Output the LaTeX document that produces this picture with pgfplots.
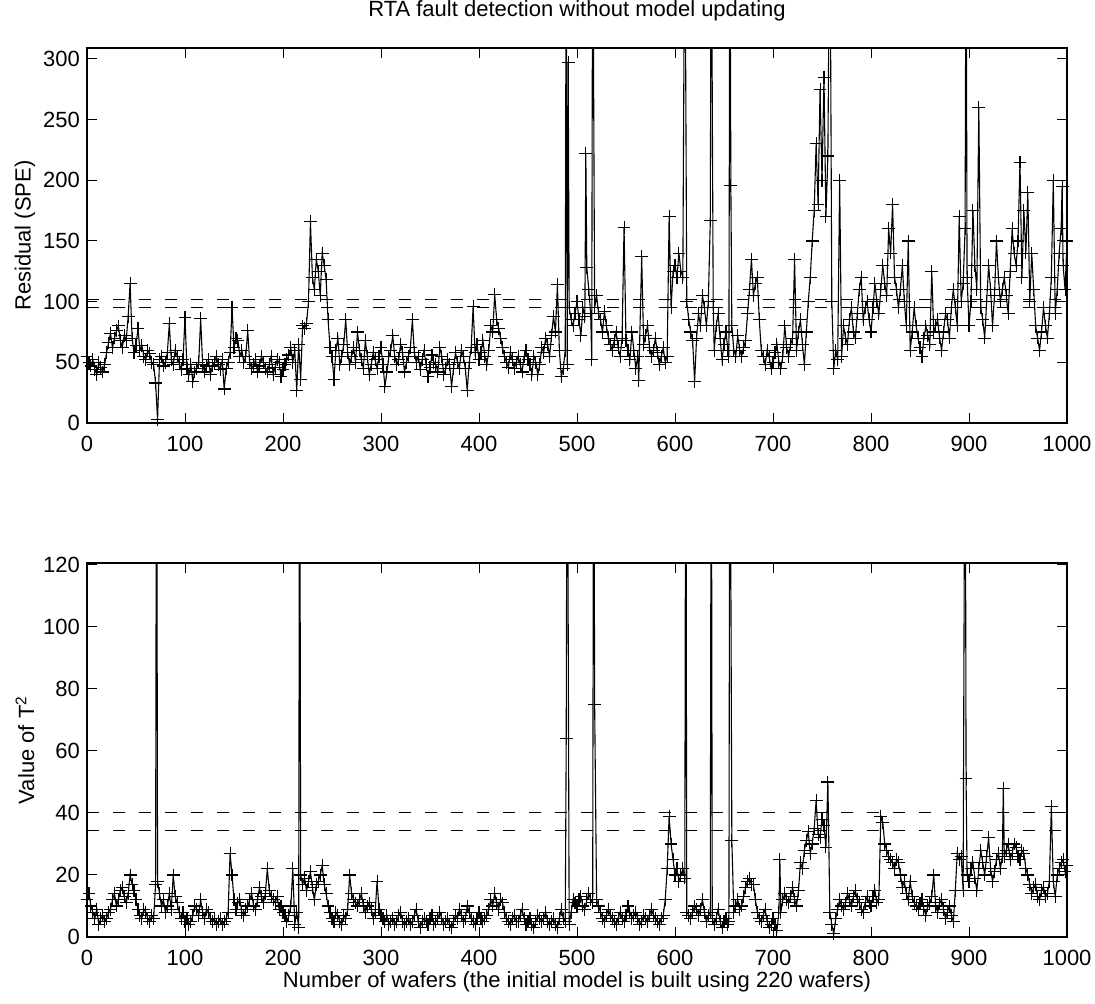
\documentclass[border=0pt]{standalone}
\usepackage{fontspec}
\setmainfont{Liberation Sans}
\usepackage{pgfplots}
\pgfplotsset{compat=1.18}

\pgfplotsset{
  rtabox/.style={
    scale only axis, width=490pt,
    xmin=0, xmax=1000, xtick={0,100,...,1000},
    font=\fontsize{11}{13}\selectfont,
    /pgf/number format/assume math mode=true,
    /pgf/number format/1000 sep={},
    tick align=inside, major tick length=5pt,
    xtick pos=both, ytick pos=both,
    xticklabel pos=lower, yticklabel pos=left,
    xticklabel style={yshift=-3pt},
    axis line style={line width=0.6pt},
    every tick/.style={black, line width=0.5pt},
    ylabel style={at={(axis description cs:-0.0633,0.5)}, anchor=center, rotate=0},
    clip=true,
  },
  wafer/.style={black, line width=0.55pt, mark=+, mark size=3.2pt,
    mark options={line width=0.55pt}},
  limit/.style={black, line width=0.5pt, dash pattern=on 6pt off 7pt, forget plot},
}

\begin{document}
\begin{tikzpicture}
\path[use as bounding box] (0,0) rectangle (547.5pt,501.5pt);

% top: squared prediction error
\begin{axis}[rtabox, at={(43.5pt,290pt)}, anchor=south west,
  height=187.5pt, ymin=0, ymax=309, ytick={0,50,...,300},
  ylabel={Residual (SPE)},
  title={RTA fault detection without model updating},
  title style={at={(axis description cs:0.5,1)}, anchor=base, yshift=9.5pt, inner sep=0pt},
]
\addplot[limit] coordinates {(0,102) (1000,102)};
\addplot[limit] coordinates {(0,95) (1000,95)};
\addplot[wafer] coordinates {
(0,55)(2,50)(4,47)(6,52)(8,44)(10,40)(12,50)(14,46)(16,42)(18,48)(20,58)(22,66)(24,74)
(26,62)(28,70)(30,76)(32,80)(34,68)(36,62)(38,72)(40,68)(42,88)(44,115)(46,70)(48,58)
(50,64)(52,78)(54,60)(56,64)(58,55)(60,52)(62,60)(64,57)(66,50)(68,48)(70,33)(72,3)
(74,52)(76,55)(78,47)(80,50)(82,58)(84,82)(86,52)(88,48)(90,60)(92,55)(94,50)(96,44)
(98,52)(100,87)(102,45)(104,40)(106,48)(108,34)(110,42)(112,45)(114,50)(116,86)(118,48)
(120,42)(122,47)(124,52)(126,40)(128,47)(130,50)(132,55)(134,48)(136,44)(138,52)
(140,28)(142,45)(144,50)(146,58)(148,95)(150,62)(152,70)(154,68)(156,55)(158,60)
(160,50)(162,55)(164,76)(166,50)(168,45)(170,48)(172,52)(174,42)(176,47)(178,55)
(180,50)(182,45)(184,42)(186,48)(188,55)(190,40)(192,46)(194,52)(196,50)(198,38)
(200,44)(202,48)(204,52)(206,56)(208,62)(210,50)(212,60)(214,27)(216,65)(218,36)
(220,80)(222,78)(224,82)(226,100)(228,166)(230,120)(232,110)(234,135)(236,125)(238,105)
(240,140)(242,130)(244,118)(246,85)(248,62)(250,55)(252,36)(254,60)(256,70)(258,48)
(260,55)(262,65)(264,85)(266,58)(268,48)(270,55)(272,62)(274,50)(276,75)(278,60)
(280,52)(282,45)(284,68)(286,55)(288,40)(290,48)(292,58)(294,52)(296,45)(298,55)
(300,62)(302,48)(304,30)(306,42)(308,55)(310,60)(312,72)(314,55)(316,48)(318,52)
(320,65)(322,58)(324,42)(326,50)(328,55)(330,62)(332,85)(334,58)(336,50)(338,55)
(340,44)(342,52)(344,60)(346,48)(348,38)(350,46)(352,56)(354,50)(356,48)(358,42)
(360,62)(362,55)(364,40)(366,45)(368,52)(370,48)(372,30)(374,45)(376,58)(378,50)
(380,45)(382,60)(384,55)(386,45)(388,27)(390,50)(392,62)(394,96)(396,58)(398,65)
(400,52)(402,58)(404,68)(406,55)(408,48)(410,60)(412,80)(414,75)(416,106)(418,85)
(420,78)(422,70)(424,62)(426,55)(428,50)(430,46)(432,58)(434,52)(436,45)(438,50)
(440,55)(442,48)(444,42)(446,55)(448,60)(450,52)(452,48)(454,40)(456,55)(458,50)
(460,40)(462,48)(464,62)(466,58)(468,70)(470,65)(472,55)(474,72)(476,88)(478,75)
(480,114)(482,60)(484,38)(486,45)(488,60)(489,450)(490,48)(491,297)(492,95)(494,85)
(496,80)(498,90)(500,100)(502,85)(504,72)(506,95)(508,88)(509,222)(510,128)(512,110)
(514,90)(515,52)(516,450)(518,95)(520,105)(522,90)(524,85)(526,75)(528,92)(530,80)
(532,70)(534,65)(536,60)(538,68)(540,75)(542,62)(544,55)(546,70)(548,161)(550,68)
(552,60)(554,52)(556,75)(558,60)(560,45)(562,55)(563,35)(566,137)(568,65)(570,72)
(572,80)(574,62)(576,55)(578,60)(580,70)(582,58)(584,48)(586,55)(588,62)(590,50)
(592,55)(594,170)(596,95)(598,125)(600,130)(602,120)(604,140)(606,125)(608,120)
(610,450)(612,100)(614,85)(616,75)(618,68)(620,34)(622,70)(624,90)(626,80)(628,105)
(630,95)(632,80)(634,100)(636,167)(637,450)(639,95)(640,60)(642,80)(644,90)(646,70)
(648,52)(650,65)(652,75)(654,60)(655,55)(656,450)(657,196)(658,80)(660,60)(662,55)
(664,72)(666,60)(668,55)(670,62)(672,68)(674,90)(676,110)(678,135)(680,105)(682,115)
(684,120)(686,85)(688,60)(690,55)(692,48)(694,60)(696,55)(698,45)(700,50)(702,58)
(704,65)(706,50)(708,45)(710,55)(712,80)(714,62)(716,55)(718,65)(720,70)(722,135)
(724,60)(726,75)(728,85)(730,65)(732,48)(734,75)(736,100)(738,120)(740,150)(742,175)
(744,230)(746,180)(748,275)(750,200)(752,285)(754,170)(756,220)(758,450)(760,100)
(762,45)(764,60)(766,52)(768,200)(770,55)(772,80)(774,70)(776,65)(778,85)(780,95)
(782,75)(784,70)(786,90)(788,110)(790,120)(792,85)(794,95)(796,100)(798,85)(800,75)
(802,95)(804,115)(806,100)(808,90)(810,110)(812,130)(814,115)(816,105)(818,160)
(820,140)(822,180)(824,120)(826,110)(828,95)(830,110)(832,130)(834,100)(836,80)
(838,150)(840,60)(842,75)(844,95)(846,80)(848,70)(850,62)(852,55)(854,70)(856,80)
(858,72)(860,65)(862,125)(864,75)(866,80)(868,85)(870,70)(872,60)(874,75)(876,90)
(878,85)(880,70)(882,95)(884,110)(886,95)(888,80)(890,170)(892,100)(894,115)(896,160)
(897,450)(898,120)(900,80)(902,100)(904,175)(906,130)(908,110)(910,260)(912,95)
(914,85)(916,70)(918,100)(920,130)(922,110)(924,80)(926,105)(928,150)(930,120)
(932,100)(934,110)(936,120)(938,105)(940,90)(942,125)(944,160)(946,140)(948,130)
(950,150)(952,215)(954,120)(956,175)(958,140)(960,190)(962,100)(964,140)(966,110)
(968,80)(970,70)(972,60)(974,75)(976,95)(978,80)(980,70)(982,90)(984,120)(986,200)
(988,90)(990,110)(992,140)(994,160)(995,195)(996,130)(998,110)(1000,150)
};
\end{axis}

% bottom: Hotelling T^2
\begin{axis}[rtabox, at={(43.5pt,33pt)}, anchor=south west,
  height=187pt, ymin=0, ymax=120.6, ytick={0,20,...,120},
  ylabel={Value of T\textsuperscript{2}},
  xlabel={Number of wafers (the initial model is built using 220 wafers)},
  xlabel style={at={(axis description cs:0.5,0)}, anchor=base, yshift=-25pt, inner sep=0pt},
]
\addplot[limit] coordinates {(0,40) (1000,40)};
\addplot[limit] coordinates {(0,34.3) (1000,34.3)};
\addplot[wafer] coordinates {
(0,12)(2,14)(4,10)(6,8)(8,6)(10,9)(12,4)(14,6)(16,7)(18,5)(20,6)(22,8)(24,9)(26,12)
(28,14)(30,10)(32,12)(34,15)(36,16)(38,13)(40,11)(42,14)(44,20)(46,17)(48,15)(50,12)
(52,9)(54,7)(56,6)(58,9)(60,8)(62,6)(64,5)(66,7)(68,6)(70,17)(71,200)(72,18)(74,14)
(76,10)(78,12)(80,8)(82,10)(84,14)(86,9)(88,20)(90,13)(92,11)(94,8)(96,6)(98,8)(100,5)
(102,6)(104,4)(106,5)(108,7)(110,10)(112,9)(114,7)(116,12)(118,8)(120,6)(122,9)(124,8)
(126,6)(128,5)(130,6)(132,4)(134,5)(136,6)(138,4)(140,5)(142,6)(144,8)(146,27)(148,20)
(150,12)(152,9)(154,11)(156,12)(158,8)(160,7)(162,9)(164,10)(166,12)(168,14)(170,10)
(172,9)(174,12)(176,16)(178,13)(180,11)(182,14)(184,22)(186,15)(188,13)(190,12)(192,11)
(194,13)(196,9)(198,10)(200,8)(202,7)(204,5)(206,7)(208,10)(210,22)(212,4)(214,8)
(216,3)(217,200)(218,20)(220,17)(222,19)(224,15)(226,18)(228,21)(230,16)(232,12)
(234,17)(236,18)(238,20)(240,23)(242,17)(244,14)(246,10)(248,8)(250,6)(252,5)(254,8)
(256,7)(258,5)(260,4)(262,7)(264,6)(266,9)(268,20)(270,14)(272,12)(274,11)(276,10)
(278,12)(280,14)(282,10)(284,8)(286,10)(288,11)(290,9)(292,6)(294,8)(296,18)(298,9)
(300,7)(302,6)(304,5)(306,7)(308,4)(310,5)(312,6)(314,4)(316,5)(318,7)(320,8)(322,5)
(324,4)(326,5)(328,6)(330,4)(332,5)(334,7)(336,9)(338,5)(340,3)(342,5)(344,6)(346,5)
(348,4)(350,6)(352,7)(354,4)(356,5)(358,6)(360,8)(362,6)(364,4)(366,5)(368,6)(370,4)
(372,3)(374,5)(376,7)(378,6)(380,9)(382,7)(384,5)(386,6)(388,10)(390,8)(392,6)(394,5)
(396,4)(398,6)(400,8)(402,6)(404,5)(406,6)(408,7)(410,9)(412,12)(414,10)(416,14)
(418,11)(420,9)(422,12)(424,11)(426,8)(428,6)(430,5)(432,4)(434,6)(436,7)(438,5)
(440,5)(442,7)(444,9)(446,6)(448,4)(450,5)(452,6)(454,4)(456,3)(458,5)(460,7)(462,6)
(464,5)(466,6)(468,8)(470,5)(472,4)(474,5)(476,6)(478,4)(480,3)(482,6)(484,9)(486,6)
(488,5)(489,64)(490,200)(492,4)(494,8)(496,12)(498,11)(500,10)(502,12)(504,13)(506,10)
(508,9)(510,12)(512,14)(514,12)(516,11)(517,200)(518,75)(520,12)(522,10)(524,8)(526,6)
(528,5)(530,7)(532,9)(534,7)(536,6)(538,5)(540,4)(542,6)(544,8)(546,6)(548,5)(550,7)
(552,10)(554,8)(556,6)(558,7)(560,8)(562,6)(564,4)(566,5)(568,7)(570,6)(572,5)(574,7)
(576,9)(578,7)(580,6)(582,5)(584,4)(586,6)(588,7)(590,12)(592,22)(594,39)(596,30)
(598,25)(600,20)(602,22)(604,18)(606,20)(608,22)(610,19)(611,200)(612,8)(614,7)(616,6)
(618,8)(620,10)(622,9)(624,7)(626,9)(628,12)(630,8)(632,5)(634,7)(636,8)(637,200)
(638,6)(640,4)(642,6)(644,9)(646,5)(648,3)(650,5)(652,6)(654,4)(655,5)(656,200)(658,31)
(660,8)(662,10)(664,12)(666,9)(668,10)(670,13)(672,16)(674,18)(676,19)(678,17)(680,17)
(682,12)(684,8)(686,6)(688,5)(690,7)(692,9)(694,5)(696,3)(698,4)(700,6)(702,4)(704,2)
(706,8)(707,25)(708,8)(710,12)(712,14)(714,12)(716,11)(718,13)(720,16)(722,12)(724,10)
(726,15)(728,24)(730,22)(732,28)(734,31)(736,34)(738,27)(740,30)(742,35)(744,44)
(746,33)(748,32)(750,38)(752,36)(754,29)(756,50)(758,8)(760,4)(762,1)(764,6)(766,9)
(768,12)(770,10)(772,9)(774,11)(776,14)(778,12)(780,10)(782,13)(784,15)(786,12)(788,11)
(790,9)(792,8)(794,11)(796,13)(798,11)(800,10)(802,13)(804,15)(806,11)(808,12)(810,39)
(812,37)(814,30)(816,28)(818,26)(820,25)(822,24)(824,22)(826,25)(828,24)(830,20)
(832,16)(834,18)(836,14)(838,12)(840,18)(842,13)(844,11)(846,10)(848,9)(850,11)(852,12)
(854,9)(856,7)(858,10)(860,11)(862,13)(864,20)(866,10)(868,8)(870,11)(872,12)(874,9)
(876,6)(878,8)(880,10)(882,7)(884,5)(886,15)(888,27)(890,25)(892,26)(894,15)(896,200)
(897,51)(898,20)(900,18)(902,22)(904,24)(906,19)(908,15)(910,22)(912,28)(914,24)
(916,20)(918,26)(920,32)(922,22)(924,18)(926,21)(928,25)(930,27)(932,22)(934,26)
(935,48)(936,26)(938,28)(940,30)(942,25)(944,27)(946,30)(948,29)(950,26)(952,25)
(954,28)(956,27)(958,22)(960,20)(962,17)(964,14)(966,16)(968,17)(970,13)(972,12)
(974,15)(976,16)(978,13)(980,14)(982,18)(984,42)(986,18)(988,13)(990,20)(992,22)
(994,24)(996,25)(998,21)(1000,23)
};
\end{axis}
\end{tikzpicture}
\end{document}
